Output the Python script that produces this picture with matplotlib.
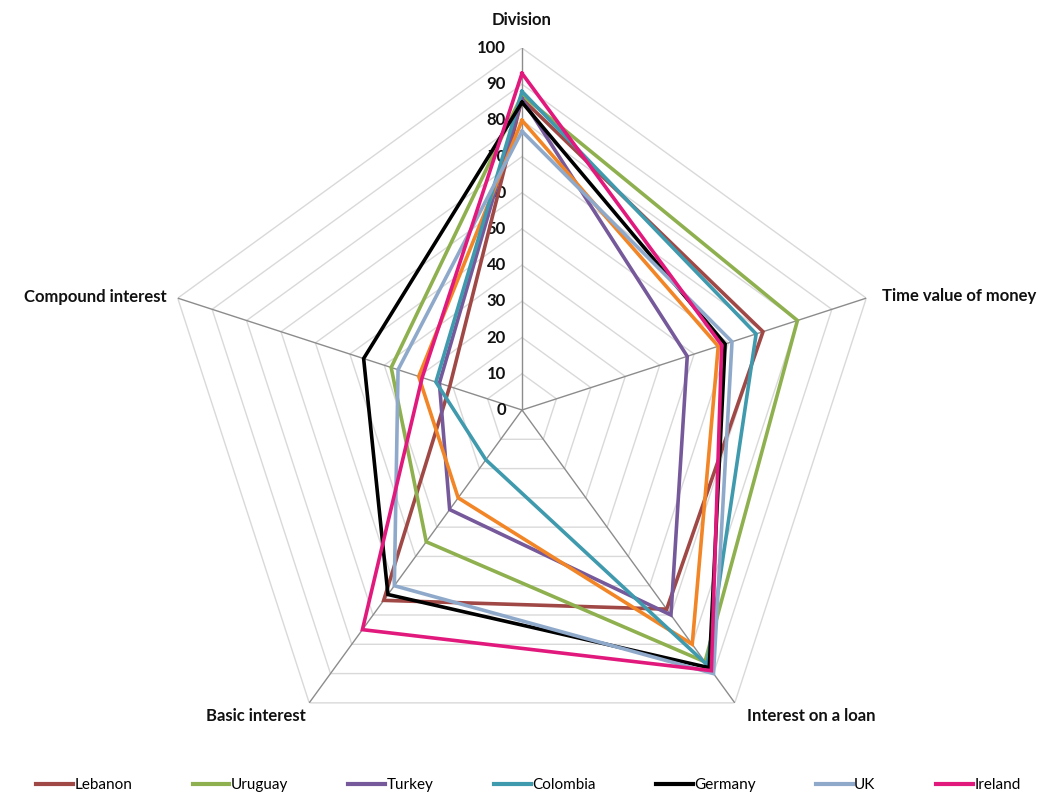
import numpy as np
import matplotlib
matplotlib.use("Agg")
import matplotlib.pyplot as plt
from matplotlib.transforms import offset_copy
from matplotlib.lines import Line2D

categories = ["Division", "Time value of money", "Interest on a loan",
              "Basic interest", "Compound interest"]

lebanon  = [86, 70, 68, 65, 21]
uruguay  = [87, 80, 86, 45, 38]
turkey   = [86, 48, 70, 34, 24]
colombia = [88, 68, 87, 17, 25]
germany  = [85, 59, 88, 63, 46]
uk       = [77, 61, 90, 60, 36]
ireland  = [93, 58, 89, 75, 29]
other    = [80, 57, 80, 30, 30]   # orange series, not shown in legend

ticks = list(range(0, 101, 10))

series = [
    ("Lebanon", lebanon, "#A04845", True),
    ("Uruguay", uruguay, "#8FB04E", True),
    ("Turkey", turkey, "#76599A", True),
    ("Other", other, "#F28526", False),
    ("Colombia", colombia, "#3F9AAE", True),
    ("Germany", germany, "#000000", True),
    ("UK", uk, "#8FA9CB", True),
    ("Ireland", ireland, "#E2197D", True),
]

plt.rcParams['font.family'] = ['Lato', 'DejaVu Sans']

fig = plt.figure(figsize=(10.63, 7.98), dpi=100)
cx, cy, R = 522, 410, 362
W, H = 1063, 798
ax = fig.add_axes([(cx - R) / W, (H - cy - R) / H, 2 * R / W, 2 * R / H],
                  projection='polar')
ax.set_theta_offset(np.pi / 2)
ax.set_theta_direction(-1)
ax.set_ylim(0, 100)
ax.grid(False)
ax.set_xticks([])
ax.set_yticks([])
ax.spines['polar'].set_visible(False)
ax.patch.set_alpha(0)

n = len(categories)
theta = np.arange(n) * 2 * np.pi / n
theta_c = np.append(theta, theta[0])

# grid pentagons
for t in ticks[1:]:
    ax.plot(theta_c, [t] * (n + 1), color="#D9D9D9", lw=1.0, zorder=1)
# spokes
for th in theta:
    ax.plot([th, th], [0, 100], color="#8C8C8C", lw=1.0, zorder=1.5)

handles = []
for i, (name, vals, col, inleg) in enumerate(series):
    v = np.append(vals, vals[0])
    ax.plot(theta_c, v, color=col, lw=2.6, zorder=3 + i,
            solid_joinstyle='miter')
    if inleg:
        handles.append((name, col))

# radial tick labels
for t in ticks:
    tr = offset_copy(ax.transData, fig=fig, x=-16, y=0, units='dots')
    ax.text(0, t, str(t), transform=tr, ha='right', va='center',
            fontsize=12, fontweight='bold', color="#111111", zorder=2)

# category labels
offs = [(0, 28, 'center', 'center'),
        (16, 2, 'left', 'center'),
        (12, -13, 'left', 'center'),
        (-3, -13, 'right', 'center'),
        (-11, 1, 'right', 'center')]
for th, lab, (dx, dy, ha, va) in zip(theta, categories, offs):
    tr = offset_copy(ax.transData, fig=fig, x=dx, y=dy, units='dots')
    ax.text(th, 100, lab, transform=tr, ha=ha, va=va, fontsize=12,
            fontweight='bold', color="#111111")

# legend
leg_handles = [Line2D([0], [0], color=c, lw=3) for _, c in handles]
leg_labels = [nm for nm, _ in handles]
fig.legend(leg_handles, leg_labels, loc='center', ncol=7,
           bbox_to_anchor=(0.497, 1 - 785 / H), frameon=False,
           fontsize=11, handlelength=2.4, handletextpad=0.1,
           columnspacing=3.95)

fig.savefig("out.png", dpi=100)
